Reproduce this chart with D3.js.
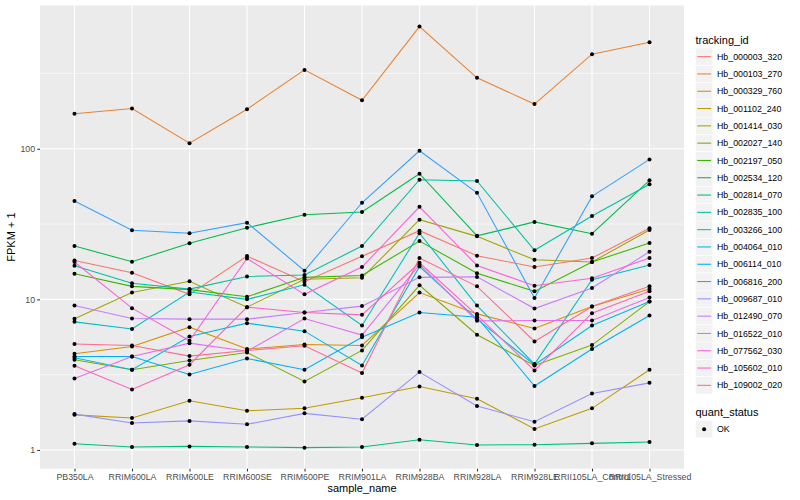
<!DOCTYPE html>
<html>
<head>
<meta charset="utf-8">
<script src="https://cdn.jsdelivr.net/npm/d3@7"></script>
<style>
body { margin: 0; background: #fff; }
svg { display: block; font-family: "Liberation Sans", Arial, sans-serif; }
</style>
</head>
<body>
<script>
//Data

var sampleNames = ["PB350LA","RRIM600LA","RRIM600LE","RRIM600SE","RRIM600PE","RRIM901LA",
  "RRIM928BA","RRIM928LA","RRIM928LE","RRII105LA_Control","RRII105LA_Stressed"];

var trackingIds = ["Hb_000003_320","Hb_000103_270","Hb_000329_760","Hb_001102_240","Hb_001414_030",
  "Hb_002027_140","Hb_002197_050","Hb_002534_120","Hb_002814_070","Hb_002835_100",
  "Hb_003266_100","Hb_004064_010","Hb_006114_010","Hb_006816_200","Hb_009687_010",
  "Hb_012490_070","Hb_016522_010","Hb_077562_030","Hb_105602_010","Hb_109002_020"];

// FPKM + 1, one row per tracking id, one value per sample
var fpkm = [
  [18.1, 15.0, 10.8, 19.4, 13.1, 19.3, 28.6, 19.5, 16.4, 18.8, 29.7],
  [171, 185, 109, 183, 334, 210, 648, 296, 198, 425, 510],
  [4.35, 4.86, 6.54, 4.68, 5.01, 4.94, 11.1, 8.01, 6.40, 8.96, 11.7],
  [1.71, 1.63, 2.12, 1.82, 1.89, 2.22, 2.64, 2.19, 1.38, 1.89, 3.41],
  [7.43, 11.1, 13.2, 8.88, 13.6, 13.9, 33.8, 26.2, 18.3, 17.7, 28.9],
  [3.97, 3.41, 3.93, 4.44, 2.85, 4.58, 12.4, 5.82, 3.64, 4.97, 9.67],
  [14.8, 12.2, 11.6, 10.4, 14.0, 14.4, 24.4, 14.9, 11.3, 17.7, 23.7],
  [22.6, 17.8, 23.6, 29.9, 36.5, 38.0, 68.3, 26.4, 32.7, 27.3, 61.7],
  [1.10, 1.047, 1.056, 1.047, 1.036, 1.047, 1.17, 1.08, 1.084, 1.106, 1.13],
  [16.7, 12.8, 11.7, 14.2, 14.5, 22.6, 62.3, 61.1, 21.2, 35.8, 58.1],
  [7.09, 6.35, 11.2, 10.0, 12.5, 6.70, 27.5, 9.10, 3.72, 13.5, 16.9],
  [4.09, 3.41, 5.67, 6.95, 6.15, 3.64, 16.5, 7.39, 3.68, 6.70, 9.67],
  [4.18, 4.18, 3.17, 4.05, 3.41, 5.61, 8.17, 7.62, 2.66, 4.68, 7.81],
  [45, 28.8, 27.5, 32.3, 15.5, 43.8, 97, 51, 10.2, 48.3, 85],
  [1.73, 1.51, 1.56, 1.48, 1.75, 1.60, 3.29, 1.96, 1.54, 2.37, 2.79],
  [9.10, 7.46, 7.39, 7.39, 8.17, 9.02, 14.0, 14.1, 8.69, 11.9, 20.7],
  [2.98, 4.18, 5.12, 4.52, 7.46, 5.79, 17.0, 7.20, 7.23, 7.23, 10.3],
  [17.7, 8.74, 5.31, 18.7, 10.8, 16.4, 41.2, 16.8, 12.3, 13.8, 18.8],
  [3.62, 2.52, 3.68, 8.88, 8.17, 7.89, 17.5, 7.86, 3.37, 8.10, 11.3],
  [5.05, 4.94, 4.20, 4.58, 4.92, 3.24, 18.8, 12.2, 5.25, 8.96, 12.2]
];

var quantStatus = ["OK"];
var yTicks = [1, 10, 100];
var yMinorTicks = [Math.sqrt(10), 10*Math.sqrt(10), 100*Math.sqrt(10)];

//Style

// ggplot default hue palette for 20 groups
var hues = ["#F8766D","#EA8331","#D89000","#C09B00","#A3A500","#7CAE00","#39B600","#00BB4E","#00BF7D","#00C1A3",
  "#00BFC4","#00BAE0","#00B0F6","#35A2FF","#9590FF","#C77CFF","#E76BF3","#FA62DB","#FF62BC","#FF6C91"];

var W = 800, H = 500;
var panel = {left: 40, top: 5.5, right: 684, bottom: 468.7};

var svg = d3.select("body").append("svg").attr("width", W).attr("height", H);

//Scales

var x = d3.scalePoint().domain(sampleNames).range([panel.left, panel.right]).padding(0.6);

// log10 scale, expanded 5% on each side like ggplot
var ext = d3.extent(d3.merge(fpkm)).map(Math.log10);
var pad = (ext[1] - ext[0]) * 0.05;
var y = d3.scaleLog()
  .domain([Math.pow(10, ext[0] - pad), Math.pow(10, ext[1] + pad)])
  .range([panel.bottom, panel.top]);

var color = d3.scaleOrdinal().domain(trackingIds).range(hues);

//Panel and grid

svg.append("rect")
  .attr("x", panel.left).attr("y", panel.top)
  .attr("width", panel.right - panel.left).attr("height", panel.bottom - panel.top)
  .attr("fill", "#EBEBEB");

var grid = svg.append("g").attr("stroke", "#fff");

grid.selectAll("line.minor")
  .data(yMinorTicks.filter(function(d){ return d < y.domain()[1]; }))
  .enter().append("line")
  .attr("class", "minor")
  .attr("x1", panel.left).attr("x2", panel.right)
  .attr("y1", function(d){ return y(d); }).attr("y2", function(d){ return y(d); })
  .attr("stroke-width", 0.53);

grid.selectAll("line.ymajor")
  .data(yTicks)
  .enter().append("line")
  .attr("class", "ymajor")
  .attr("x1", panel.left).attr("x2", panel.right)
  .attr("y1", function(d){ return y(d); }).attr("y2", function(d){ return y(d); })
  .attr("stroke-width", 1.07);

grid.selectAll("line.xmajor")
  .data(sampleNames)
  .enter().append("line")
  .attr("class", "xmajor")
  .attr("y1", panel.top).attr("y2", panel.bottom)
  .attr("x1", function(d){ return x(d); }).attr("x2", function(d){ return x(d); })
  .attr("stroke-width", 1.07);

//Lines and points

var series = trackingIds.map(function(id, i){
  return {id: id, values: fpkm[i].map(function(v, j){ return {sample: sampleNames[j], v: v}; })};
});

var line = d3.line()
  .x(function(d){ return x(d.sample); })
  .y(function(d){ return y(d.v); });

svg.append("g").selectAll("path")
  .data(series)
  .enter().append("path")
  .attr("d", function(d){ return line(d.values); })
  .attr("fill", "none")
  .attr("stroke", function(d){ return color(d.id); })
  .attr("stroke-width", 1.07);

svg.append("g").selectAll("circle")
  .data(d3.merge(series.map(function(s){ return s.values; })))
  .enter().append("circle")
  .attr("cx", function(d){ return x(d.sample); })
  .attr("cy", function(d){ return y(d.v); })
  .attr("r", 2)
  .attr("fill", "#000");

//Axes

function styleAxis(g){
  g.select(".domain").remove();
  g.selectAll(".tick line").attr("stroke", "#333333").attr("stroke-width", 1.07);
  g.selectAll(".tick text").attr("fill", "#4D4D4D").style("font-size", "8.8px").style("font-family", null);
}

svg.append("g")
  .attr("transform", "translate(" + panel.left + ",0)")
  .call(d3.axisLeft(y).tickValues(yTicks).tickFormat(d3.format("d")).tickSize(2.75).tickPadding(2.2))
  .call(styleAxis);

svg.append("g")
  .attr("transform", "translate(0," + panel.bottom + ")")
  .call(d3.axisBottom(x).tickSize(2.75).tickPadding(2.2))
  .call(styleAxis);

svg.append("text")
  .attr("x", (panel.left + panel.right) / 2).attr("y", 492)
  .attr("text-anchor", "middle").style("font-size", "11px")
  .text("sample_name");

svg.append("text")
  .attr("transform", "translate(15," + ((panel.top + panel.bottom) / 2) + ") rotate(-90)")
  .attr("text-anchor", "middle").style("font-size", "11px")
  .text("FPKM + 1");

//Legends

var lx = 695.5, keyW = 17.3, keyH = 17.3;

function legendTitle(text, yBase){
  svg.append("text").attr("x", lx).attr("y", yBase).style("font-size", "11px").text(text);
}

legendTitle("tracking_id", 44);

var keys = svg.append("g").selectAll("g")
  .data(trackingIds)
  .enter().append("g")
  .attr("transform", function(d, i){ return "translate(" + lx + "," + (48 + i * keyH) + ")"; });

keys.append("rect")
  .attr("width", keyW).attr("height", keyH)
  .attr("fill", "#F2F2F2").attr("stroke", "#fff").attr("stroke-width", 0.5);

keys.append("line")
  .attr("x1", 1.7).attr("x2", keyW - 1.7)
  .attr("y1", keyH / 2).attr("y2", keyH / 2)
  .attr("stroke", function(d){ return color(d); })
  .attr("stroke-width", 1.07);

keys.append("text")
  .attr("x", keyW + 4.2).attr("y", keyH / 2).attr("dy", "0.35em")
  .style("font-size", "8.8px")
  .text(function(d){ return d; });

legendTitle("quant_status", 416);

var qkeys = svg.append("g").selectAll("g")
  .data(quantStatus)
  .enter().append("g")
  .attr("transform", function(d, i){ return "translate(" + lx + "," + (420.5 + i * keyH) + ")"; });

qkeys.append("rect")
  .attr("width", keyW).attr("height", keyH)
  .attr("fill", "#F2F2F2").attr("stroke", "#fff").attr("stroke-width", 0.5);

qkeys.append("circle")
  .attr("cx", keyW / 2).attr("cy", keyH / 2).attr("r", 2).attr("fill", "#000");

qkeys.append("text")
  .attr("x", keyW + 4.2).attr("y", keyH / 2).attr("dy", "0.35em")
  .style("font-size", "8.8px")
  .text(function(d){ return d; });
</script>
</body>
</html>
